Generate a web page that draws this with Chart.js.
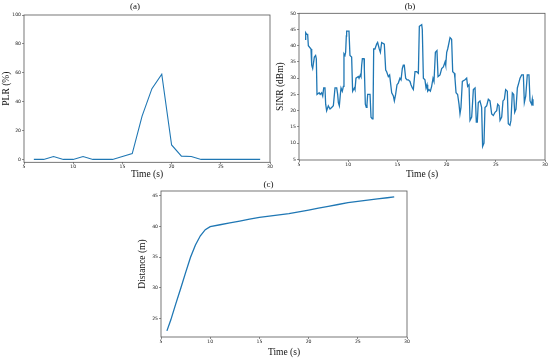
<!DOCTYPE html>
<html>
<head>
<meta charset="utf-8">
<script src="https://cdn.jsdelivr.net/npm/chart.js@4/dist/chart.umd.min.js"></script>
<style>
  html, body { margin: 0; padding: 0; background: #fff; }
  body { width: 550px; height: 360px; position: relative; overflow: hidden; }
  canvas { position: absolute; }
</style>
</head>
<body>
<canvas id="cA" width="275" height="180" style="left:0px;top:0px"></canvas>
<canvas id="cB" width="275" height="180" style="left:275px;top:0px"></canvas>
<canvas id="cC" width="285" height="182" style="left:130px;top:178px"></canvas>
<script>
// ---------- data ----------
const plrTime  = [6,7,8,9,10,11,12,13,14,15,16,17,18,19,20,21,22,23,24,25,26,27,28,29];
const plrValue = [0,0,2,0,0,2,0,0,0,2,4,30,49,59,10,2.3,2,0,0,0,0,0,0,0];

const sinrTime = [5.61,5.68,5.78,5.88,5.95,6.22,6.29,6.39,6.56,6.69,6.76,6.83,7.05,7.15,7.30,7.41,7.51,7.64,7.71,7.81,7.98,8.15,8.32,8.49,8.66,8.83,8.93,9.00,9.10,9.20,9.27,9.40,9.51,9.57,9.67,9.74,9.81,9.84,10.08,10.18,10.35,10.45,10.62,10.69,10.79,11.03,11.10,11.23,11.30,11.37,11.44,11.61,11.64,11.74,11.84,11.91,11.98,12.22,12.32,12.45,12.52,12.59,12.72,12.89,12.99,13.16,13.27,13.40,13.67,13.81,13.91,14.08,14.21,14.42,14.59,14.69,14.82,14.96,15.09,15.26,15.37,15.50,15.60,15.70,15.84,15.98,16.11,16.28,16.38,16.52,16.62,16.79,16.96,17.13,17.23,17.47,17.53,17.64,17.80,17.91,18.01,18.08,18.21,18.35,18.48,18.62,18.72,18.86,19.02,19.13,19.33,19.50,19.67,19.84,19.91,20.01,20.11,20.18,20.35,20.51,20.62,20.79,20.85,20.96,21.12,21.26,21.36,21.46,21.60,21.87,22.04,22.14,22.28,22.38,22.55,22.72,22.89,23.02,23.12,23.22,23.39,23.56,23.66,23.80,23.90,24.07,24.24,24.41,24.58,24.75,24.92,25.09,25.19,25.33,25.43,25.60,25.73,25.87,26.00,26.17,26.27,26.44,26.54,26.68,26.82,26.92,27.05,27.19,27.33,27.46,27.63,27.80,27.90,28.04,28.20,28.37,28.48,28.64,28.71,28.78];
const sinrValue = [42,44,43.5,43.5,40,39,34,33,36.5,37,36,25,25.5,25,25.5,24.5,27,27,22,20,21.5,20.5,21,21.5,27,27,25,22.5,21.5,25,27,26,27.5,37.5,37,38,43,44.5,44.5,37,36.5,26,27,26.5,30,30.5,30,31,30.5,34,36,36,33,22,21,22,25,25,18,17.5,18,39,39,40.5,41,39,38,41,40.5,32.5,32,30.5,31,25.5,24.5,23,25,28,28.5,30,29.5,33,34,34,30,29.5,29.5,29,28,27,26.5,32,32,31.5,46,46.5,45,30,29.5,27,28,26,26.5,26,27.5,30,29,38,38.5,30.5,31,33,33.5,35,34,38,39,40,42.5,42,32,31.5,30,25.5,25,22,19,21,29,29.5,30,27.5,28,17,18,26.5,27,16.5,16.5,22.5,23,21,9,10,21,21.5,23.5,23,19,18.5,19.5,20,22,21.5,17,18,23,23.5,26.5,26,16,15.5,17,25.5,25,19.5,20.5,27,28.5,30,31,31,22.5,24.5,31,31,23,22,23.5,21.5];

const distTime  = [5.6,6.0,6.5,7.0,7.5,8.0,8.5,9.0,9.5,10.0,11,12,13,14,15,16,17,18,19,20,21,22,23,24,25,26,27,28,28.7];
const distValue = [23.0,24.8,27.4,29.9,32.5,35.0,37.0,38.5,39.5,40.0,40.3,40.6,40.9,41.2,41.5,41.7,41.9,42.1,42.4,42.7,43.0,43.3,43.6,43.9,44.1,44.3,44.5,44.7,44.85];

const xTicksSpec = { min: 5, max: 30, step: 5 };
// ---------- helpers ----------
function pts(xs, ys) { return xs.map((x, i) => ({ x: x, y: ys[i] })); }

const framePlugin = {
  id: 'frame',
  afterDraw(chart) {
    const { ctx, chartArea: a } = chart;
    ctx.save();
    ctx.strokeStyle = '#555';
    ctx.lineWidth = 0.8;
    ctx.strokeRect(a.left, a.top, a.right - a.left, a.bottom - a.top);
    ctx.restore();
  }
};

const SERIF = '"Liberation Serif", "DejaVu Serif", serif';
const SANS = '"DejaVu Sans", sans-serif';
const BLUE = '#1f77b4';

function makeChart(id, o) {
  const tickFont = { family: SANS, size: 4.6 };
  const gridOpts = { display: true, drawOnChartArea: false, drawTicks: true, tickLength: 2, color: '#444', lineWidth: 0.6 };
  return new Chart(document.getElementById(id), {
    type: 'line',
    data: { datasets: [{ data: pts(o.xs, o.ys), borderColor: BLUE, borderWidth: o.lw, pointRadius: 0, tension: 0, fill: false }] },
    options: {
      responsive: false, animation: false, devicePixelRatio: 1,
      layout: { padding: { left: 0, right: o.padRight, top: 0, bottom: 0 } },
      plugins: {
        legend: { display: false }, tooltip: { enabled: false },
        title: { display: true, text: o.title, color: '#111', font: { family: SERIF, size: 9, weight: 'normal' }, padding: o.titlePad }
      },
      scales: {
        x: {
          type: 'linear', min: xTicksSpec.min, max: xTicksSpec.max,
          ticks: { stepSize: xTicksSpec.step, font: tickFont, color: '#222', padding: 0, maxRotation: 0, includeBounds: false },
          grid: gridOpts, border: { display: false },
          title: { display: true, text: 'Time (s)', color: '#111', font: { family: SERIF, size: 9.5 }, padding: { top: 0, bottom: o.xTitleBottom } },
          afterFit: s => { s.height = o.xHeight; }
        },
        y: {
          type: 'linear', min: o.ymin, max: o.ymax,
          ticks: { stepSize: o.ystep, font: tickFont, color: '#222', padding: 1, includeBounds: false },
          grid: gridOpts, border: { display: false },
          title: { display: true, text: o.ytitle, color: '#111', font: { family: SERIF, size: 9.5 }, padding: { top: o.yTitleTop, bottom: 0 } },
          afterFit: s => { s.width = o.yWidth; }
        }
      }
    },
    plugins: [framePlugin]
  });
}

makeChart('cA', {
  title: '(a)', xs: plrTime, ys: plrValue, lw: 1.1,
  ymin: -2, ymax: 100, ystep: 20, ytitle: 'PLR (%)',
  padRight: 5, titlePad: { top: 1, bottom: 3.2 },
  yWidth: 24, xHeight: 17.7, xTitleBottom: 0, yTitleTop: 0.4
});
makeChart('cB', {
  title: '(b)', xs: sinrTime, ys: sinrValue, lw: 1.3,
  ymin: 4.8, ymax: 50, ystep: 5, ytitle: 'SINR (dBm)',
  padRight: 5, titlePad: { top: 1, bottom: 1.5 },
  yWidth: 24, xHeight: 20, xTitleBottom: 0, yTitleTop: 0
});
makeChart('cC', {
  title: '(c)', xs: distTime, ys: distValue, lw: 1.3,
  ymin: 22.0, ymax: 45.8, ystep: 5, ytitle: 'Distance (m)',
  padRight: 8, titlePad: { top: 1.6, bottom: 0.6 },
  yWidth: 31, xHeight: 23, xTitleBottom: 1.4, yTitleTop: 6.4
});
</script>
</body>
</html>
